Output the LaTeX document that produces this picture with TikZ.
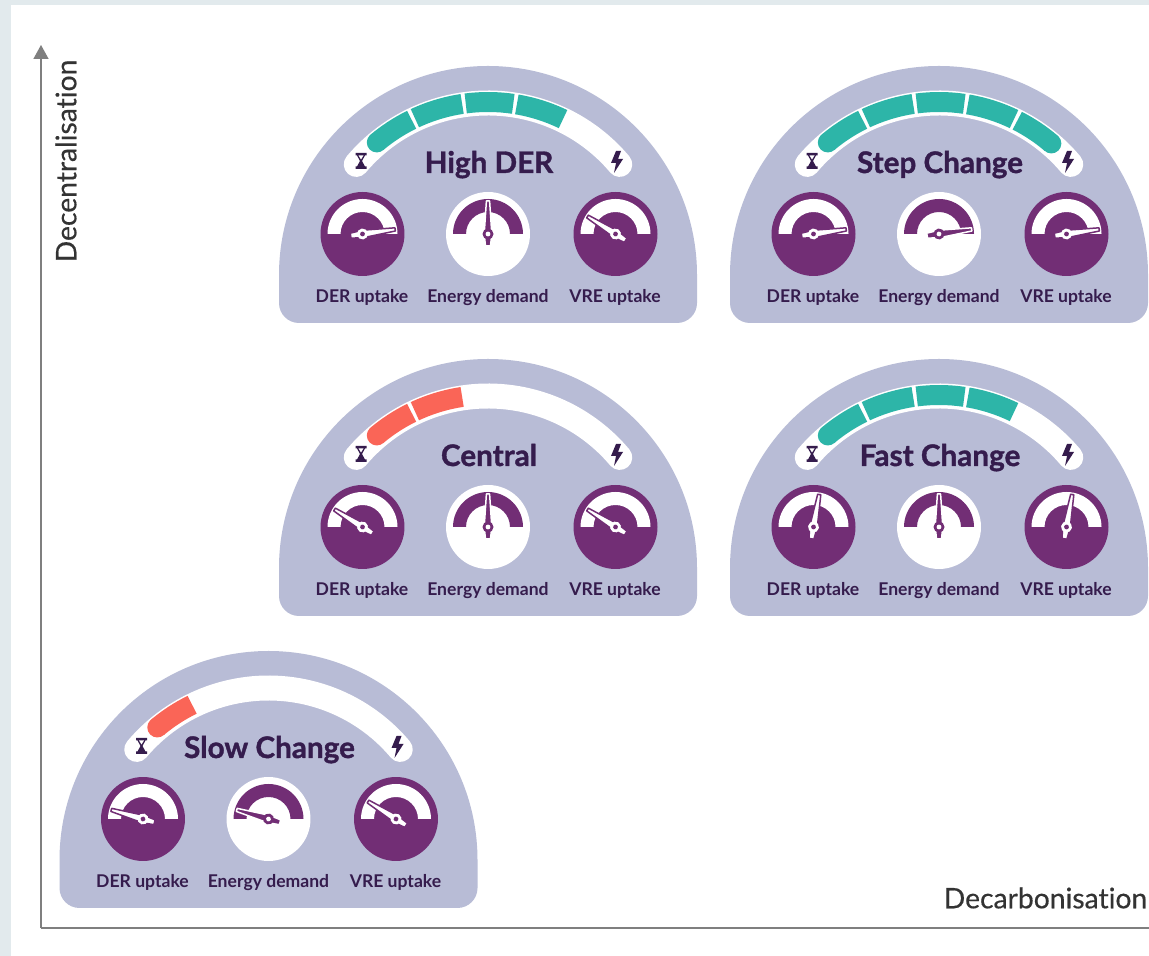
\documentclass[tikz,border=0pt]{standalone}
\usepackage{fontspec}
\setmainfont{Lato}
\newfontfamily\heavyfont[BoldFeatures={FakeBold=1.2}]{Lato}
\newfontfamily\mediumfont[FakeBold=.4,Ligatures=NoCommon]{Lato}
\usetikzlibrary{arrows.meta}
\definecolor{sidebg}{HTML}{E2EAED}
\definecolor{axisgray}{HTML}{7F7F7F}
\definecolor{cardblue}{HTML}{B8BCD6}
\definecolor{plum}{HTML}{722E75}
\definecolor{darkplum}{HTML}{351C4D}
\definecolor{tealbar}{HTML}{2DB5A8}
\definecolor{redbar}{HTML}{FA6557}
\tikzset{
	axisline/.style={draw=axisgray,line width=.3mm},
	axislabel/.style={text=black!80,font=\fontsize{16.1}{18}\mediumfont},
	cardtitle/.style={anchor=base,text=darkplum,font=\fontsize{16.9}{18}\heavyfont\bfseries},
	gaugelabel/.style={text=darkplum,font=\fontsize{10}{11}\selectfont\bfseries},
	gaugedisc/.style={circle,inner sep=0pt,minimum size=1.68cm},
}
% one dial: position, name, dial colour, disc colour, needle angle
\newcommand{\gauge}[5]{
	\node[gaugedisc,fill=#4] (#2) at (#1) {};
	\begin{scope}[shift={(#1)}]
		\fill[#3] (-35,0) arc (180:0:35) -- (22,0) arc (0:180:22) -- cycle;
		\begin{scope}[rotate=#5]
			\filldraw[fill=#3,draw=#4,line width=.3mm,line join=round] (-12,-2.5) -- (0,-3.8) -- (33,-1.6) -- (33,1.6) -- (0,3.8) -- (-12,2.5) -- cycle;
			\fill[#3] (0,0) circle (5.5);
			\fill[#4] (0,0) circle (2.4);
		\end{scope}
	\end{scope}
}
% one card: x, y, name, title, bar colour, bars, three needle angles
\newcommand{\scenario}[9]{
	\begin{scope}[shift={(#1,#2)}]
		\fill[cardblue] (-209,0) arc (180:0:209) -- (209,-28) arc (0:-90:20) -- (-189,-48) arc (270:180:20) -- cycle;
		\draw[white,line width=.5cm,line cap=round] (140:172) arc (140:40:172);
		\fill[#5] (130:173) circle (10);
		\foreach \a/\b [count=\i] in {130/116.2,115/98.6,97.4/81.6,80.4/64.3,63.1/49.5}{
			\ifnum\i>#6\else
				\draw[#5,line width=.4cm] (\a:173) arc (\a:\b:173);
			\fi
		}
		\ifnum#6=5 \fill[#5] (49.5:173) circle (10);\fi
		% hourglass and bolt
		\fill[darkplum] (-132.5,122) -- (-121.5,122) -- (-121.5,119.5) -- (-123,119.5) -- (-126,114) -- (-123,108.5) -- (-121.5,108.5) -- (-121.5,106) -- (-132.5,106) -- (-132.5,108.5) -- (-131,108.5) -- (-128,114) -- (-131,119.5) -- (-132.5,119.5) -- cycle;
		\fill[white] (-129.5,119.5) -- (-124.5,119.5) -- (-127,115.5) -- cycle;
		\fill[darkplum] (128,124) -- (123,112) -- (128,112) -- (126,102) -- (135,116) -- (130,116) -- (133,124) -- cycle;
		\node[cardtitle] (#3title) at (1,102) {#4};
		\gauge{-125.5,41}{#3der}{white}{plum}{#7}
		\gauge{0,41}{#3energy}{plum}{white}{#8}
		\gauge{127.5,41}{#3vre}{white}{plum}{#9}
	\end{scope}
}
\begin{document}
\begin{tikzpicture}[x=.02cm,y=.02cm]
	\useasboundingbox (0,0) rectangle (1149,956);
	\fill[sidebg] (0,0) rectangle (1149,956);
	\fill[white] (11,0) rectangle (1149,951);

	\coordinate (origin) at (41,28);
	\coordinate (ytip) at (41,911);
	\coordinate (xend) at (1149,28);
	\draw[axisline,-{Triangle[length=.28cm,width=.3cm]}] (origin)--(ytip);
	\draw[axisline] (origin)--(xend);
	\node[axislabel,rotate=90] (decentral) at (66,795) {Decentralisation};
	\node[axislabel] (decarbon) at (1045.5,58) {Decarbonisation};

	\scenario{488}{681}{high}{High DER}{tealbar}{4}{8}{90}{148}
	\scenario{939}{681}{step}{Step Change}{tealbar}{5}{8}{8}{8}
	\scenario{488}{388}{central}{Central}{redbar}{2}{148}{90}{148}
	\scenario{939}{388}{fast}{Fast Change}{tealbar}{4}{80}{90}{80}
	\scenario{268.5}{96}{slow}{Slow Change}{redbar}{1}{164}{164}{148}

	\foreach \cx/\cy/\cname in {488/681/high,939/681/step,488/388/central,939/388/fast,268.5/96/slow}{
		\node[gaugelabel] (\cname der) at ({\cx-126},{\cy-22.5}) {DER uptake};
		\node[gaugelabel] (\cname demand) at (\cx,{\cy-22.5}) {Energy demand};
		\node[gaugelabel] (\cname vre) at ({\cx+127},{\cy-22.5}) {VRE uptake};
	}
\end{tikzpicture}
\end{document}
